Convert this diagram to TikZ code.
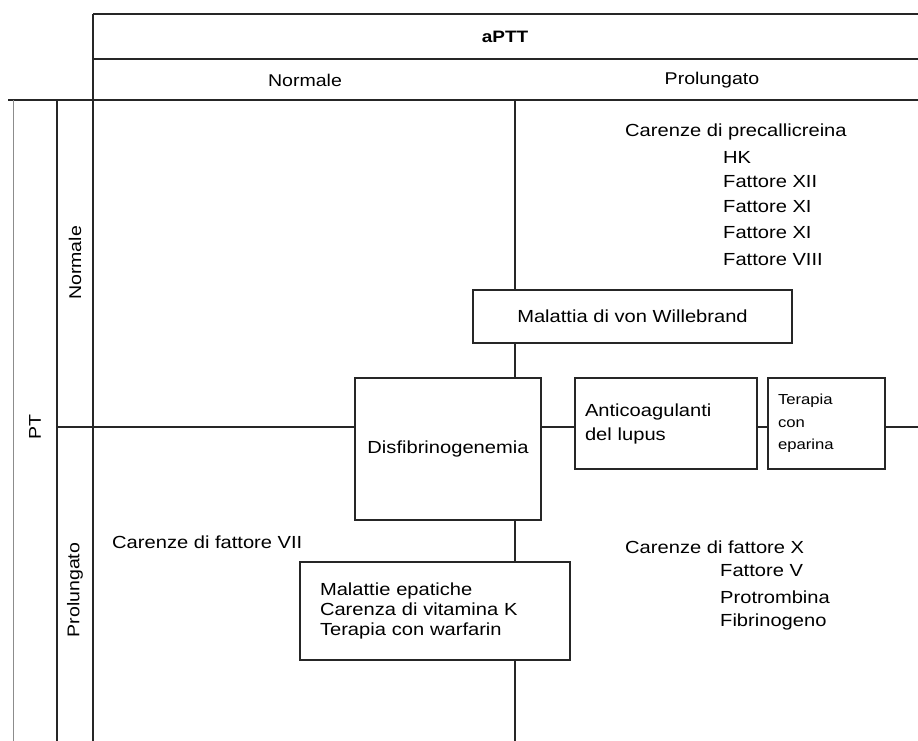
\documentclass[tikz,border=0pt]{standalone}
\usepackage{fontspec}
\setmainfont{Liberation Sans}[FakeStretch=1.15]
\begin{document}
\begin{tikzpicture}[x=1pt,y=-1pt,
  line/.style={line width=1.8pt,draw=black!85},
  thin/.style={line width=1pt,draw=black!45},
  boxn/.style={draw=black!85,line width=1.4pt,fill=white,inner sep=0pt},
  txt/.style={font=\fontsize{17.5}{24}\selectfont,inner sep=0pt},
  hdr/.style={font=\fontsize{17}{20}\selectfont,inner sep=0pt}]
\useasboundingbox (0,0) rectangle (918,741);
% frame coordinates
\coordinate (tl) at (93,14);
\coordinate (tr) at (918,14);
\coordinate (h1l) at (93,59);
\coordinate (h1r) at (918,59);
\coordinate (h2l) at (8,100);
\coordinate (h2r) at (918,100);
\coordinate (vtop) at (93,14);
\coordinate (vbot) at (93,741);
\coordinate (c2top) at (57,100);
\coordinate (c2bot) at (57,741);
\coordinate (c1top) at (13,100);
\coordinate (c1bot) at (13,741);
\coordinate (midl) at (57,427);
\coordinate (midr) at (918,427);
\coordinate (ctop) at (515,100);
\coordinate (cbot) at (515,741);
% frame lines
\draw[line] (tl) -- (tr);
\draw[line] (h1l) -- (h1r);
\draw[line] (h2l) -- (h2r);
\draw[line] (vtop) -- (vbot);
\draw[line] (c2top) -- (c2bot);
\draw[thin] (c1top) -- (c1bot);
% headers
\node[hdr,font=\bfseries\fontsize{16.5}{18}\selectfont] (aptt) at (505,37) {aPTT};
\node[hdr] (hnorm) at (305,80) {Normale};
\node[hdr] (hprol) at (712,80) {Prolungato};
\node[hdr,rotate=90] (pt) at (35,427) {PT};
\node[hdr,rotate=90] (vnorm) at (75,263) {Normale};
\node[hdr,rotate=90] (vprol) at (75,590) {Prolungato};
% boxes
\node[boxn,minimum width=319pt,minimum height=53pt,txt] (vw) at (632.5,316.5) {Malattia di von Willebrand};
\node[boxn,minimum width=186pt,minimum height=142pt,txt] (disf) at (448,449) {Disfibrinogenemia};
\node[boxn,minimum width=182pt,minimum height=91pt,txt,text width=162pt,align=left,inner xsep=10pt] (lupus) at (666,423.5) {Anticoagulanti\\del lupus};
\node[boxn,minimum width=117pt,minimum height=91pt,text width=97pt,align=left,inner xsep=10pt,font=\fontsize{14.5}{22.5}\selectfont] (epar) at (826.5,423.5) {Terapia\\con\\eparina};
\node[boxn,minimum width=270pt,minimum height=98pt,txt,text width=230pt,align=left,inner xsep=20pt,font=\fontsize{17.5}{20}\selectfont] (epat) at (435,611) {Malattie epatiche\\Carenza di vitamina K\\Terapia con warfarin};
% connectors
\draw[line] (ctop) -- (ctop |- vw.north);
\draw[line] (vw.south -| ctop) -- (disf.north -| ctop);
\draw[line] (disf.south -| ctop) -- (epat.north -| ctop);
\draw[line] (epat.south -| ctop) -- (cbot);
\draw[line] (midl) -- (midl -| disf.west);
\draw[line] (disf.east |- midl) -- (lupus.west |- midl);
\draw[line] (lupus.east |- midl) -- (epar.west |- midl);
\draw[line] (epar.east |- midl) -- (midr);
% lists
\node[txt,anchor=west] (prec) at (625,132) {Carenze di precallicreina};
\node[txt,anchor=west] (hk) at (723,157) {HK};
\node[txt,anchor=west] (f12) at (723,182) {Fattore XII};
\node[txt,anchor=west] (f11a) at (723,207) {Fattore XI};
\node[txt,anchor=west] (f11b) at (723,233) {Fattore XI};
\node[txt,anchor=west] (f8) at (723,260) {Fattore VIII};
\node[txt,anchor=west] (f7) at (112,542) {Carenze di fattore VII};
\node[txt,anchor=west] (fx) at (625,547) {Carenze di fattore X};
\node[txt,anchor=west] (f5) at (720,571) {Fattore V};
\node[txt,anchor=west] (prot) at (720,597) {Protrombina};
\node[txt,anchor=west] (fib) at (720,622) {Fibrinogeno};
\end{tikzpicture}
\end{document}
